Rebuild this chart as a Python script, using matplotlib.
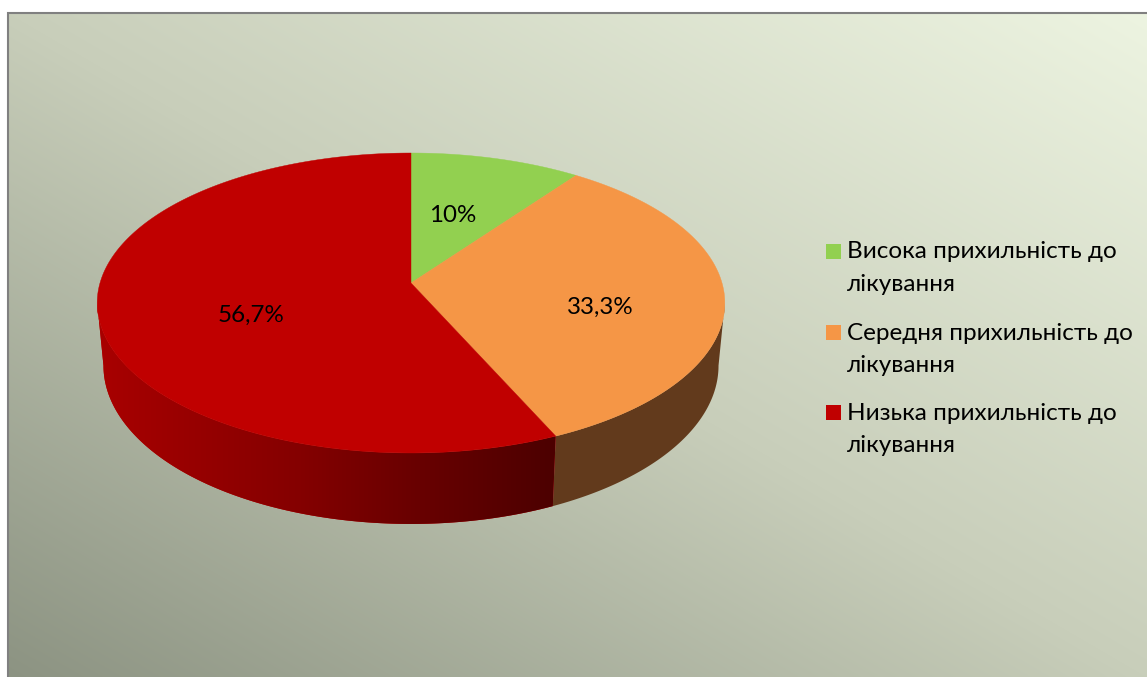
# -*- coding: utf-8 -*-
import numpy as np
import matplotlib
matplotlib.use("Agg")
import matplotlib.pyplot as plt
from matplotlib.patches import Polygon, Rectangle

categories = ["Висока прихильність до\nлікування",
              "Середня прихильність до\nлікування",
              "Низька прихильність до\nлікування"]
values = [10, 33.3, 56.7]
value_labels = ["10%", "33,3%", "56,7%"]
top_colors = ["#92d050", "#f59646", "#c00000"]
side_colors = ["#4e6f2a", "#623a1c", "#c00000"]

W, H = 1147, 677
plt.rcParams['font.family'] = ['Lato', 'Noto Sans', 'DejaVu Sans']

# tilted disc, in pixels
cx, cy = 411, 283
rx = 311
ry = -109.6
persp = 0.1333
depth = 61.5
shrink = 0.98


def top_edge(theta):
    u = np.sin(theta)
    v = np.cos(theta)
    d = 1 + persp * v
    return cx + rx * u / d, (ry * v + cy) / d


def bottom_edge(theta):
    u = np.sin(theta)
    v = np.cos(theta)
    d = 1 + persp * v
    return cx + rx * shrink * u / d, (ry * v + cy) / d + depth / d


fig = plt.figure(figsize=(W / 100, H / 100), dpi=100)
ax = fig.add_axes([0, 0, 1, 1])

# background gradient, dark at lower left and light at upper right
yy, xx = np.mgrid[0:H, 0:W]
t = (0.5 * xx / W + 0.5 * (H - yy) / H)
stops = [0, 0.5, 1]
bg = np.dstack([np.interp(t, stops, [c0, c1, c2]) for c0, c1, c2 in
                [(140, 200, 237), (147, 206, 244), (130, 186, 225)]])
ax.imshow(bg / 255, extent=[8, W, H, 13], aspect="auto", zorder=0, interpolation="bilinear")
ax.plot([7.5, 7.5, W], [H, 12.5, 12.5], color="#808080", lw=1.5, zorder=1, solid_joinstyle="miter")

angles = 2 * np.pi * np.cumsum([0] + values) / sum(values)

# only the front of the rim shows, between the two side tangents
front_start = np.arccos(-persp)
front_end = 2 * np.pi - front_start

# the red rim gets darker towards the right
xs = np.arange(90, 570)
red = np.interp(xs, [100, 300, 411, 555], [168, 132, 106, 76])
red_strip = np.zeros((1, len(xs), 3))
red_strip[0, :, 0] = red / 255

for i in range(len(values)):
    a0 = max(angles[i], front_start)
    a1 = min(angles[i + 1], front_end)
    if a1 <= a0:
        continue
    th = np.linspace(a0, a1, 300)
    xt, yt = top_edge(th)
    xb, yb = bottom_edge(th)
    pts = list(zip(xt, yt)) + list(zip(xb[::-1], yb[::-1]))
    rim = Polygon(pts, closed=True, facecolor=side_colors[i], edgecolor="none", zorder=2)
    ax.add_patch(rim)
    if i == 2:
        im = ax.imshow(red_strip, extent=[xs[0], xs[-1], 540, 280], aspect="auto", zorder=2.5,
                       interpolation="nearest")
        im.set_clip_path(rim)

for i in range(len(values)):
    th = np.linspace(angles[i], angles[i + 1], 200)
    xt, yt = top_edge(th)
    pts = [(cx, cy)] + list(zip(xt, yt))
    ax.add_patch(Polygon(pts, closed=True, facecolor=top_colors[i], edgecolor=top_colors[i], lw=0.3, zorder=3))

label_xy = [(453, 215), (600, 307), (251, 315)]
for txt, (lx, ly) in zip(value_labels, label_xy):
    ax.text(lx, ly, txt, ha="center", va="center", fontsize=17.4, color="black", zorder=4)

# legend
legend_y = [251.5, 332.5, 412.5]
for name, col, ly in zip(categories, top_colors, legend_y):
    ax.add_patch(Rectangle((826, ly - 7.5), 15, 15, facecolor=col, edgecolor="none", zorder=4))
    ax.text(847, ly - 10, name, ha="left", va="top", fontsize=17.5, color="black",
            linespacing=1.68, zorder=4)

ax.set_xlim(0, W)
ax.set_ylim(H, 0)
ax.axis("off")

fig.savefig("out.png", dpi=100, facecolor="white")
